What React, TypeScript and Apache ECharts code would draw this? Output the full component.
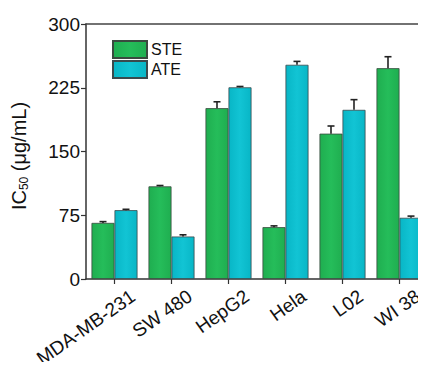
import React, { useEffect, useRef } from "react";
import * as echarts from "echarts";

const categories = ["MDA-MB-231", "SW 480", "HepG2", "Hela", "L02", "WI 38"];
const steValues = [66, 109, 201, 61, 171, 248];
const steErrors = [1.5, 1, 7.5, 1.5, 9, 13.5];
const ateValues = [81, 50, 225.5, 252, 199, 72];
const ateErrors = [1, 2, 1, 4, 12, 2];
const yTicks = [0, 75, 150, 225, 300];

const FONT = "Liberation Sans, Arial, sans-serif";

function grad(edge: string, mid: string) {
  return new echarts.graphic.LinearGradient(0, 0, 1, 0, [
    { offset: 0, color: edge },
    { offset: 0.5, color: mid },
    { offset: 1, color: edge },
  ]);
}

function errorSeries(values: number[], errs: number[], offset: number) {
  return {
    type: "custom",
    silent: true,
    z: 10,
    data: values.map((v, i) => [i, v, errs[i]]),
    renderItem: (params: any, api: any) => {
      const i = api.value(0);
      const v = api.value(1);
      const e = api.value(2);
      const base = api.coord([i, v]);
      const top = api.coord([i, v + e]);
      const x = base[0] + offset;
      const style = { stroke: "#222", lineWidth: 1.6 };
      return {
        type: "group",
        children: [
          { type: "line", shape: { x1: x, y1: base[1], x2: x, y2: top[1] }, style },
          { type: "line", shape: { x1: x - 3.5, y1: top[1], x2: x + 3.5, y2: top[1] }, style },
        ],
      };
    },
  };
}

export default function App() {
  const ref = useRef<HTMLDivElement>(null);
  useEffect(() => {
    const chart = echarts.init(ref.current!, null, { renderer: "svg" });
    chart.setOption({
      animation: false,
      grid: { left: 86, top: 24, right: -2, bottom: 91, containLabel: false, outerBoundsMode: "none" },
      legend: {
        left: 107,
        top: 35,
        orient: "vertical",
        icon: "rect",
        itemWidth: 34,
        itemHeight: 17,
        itemGap: 1,
        data: ["STE", "ATE"],
        textStyle: { fontFamily: FONT, fontSize: 16, color: "#111", padding: [0, 0, 0, -1] },
      },
      graphic: [
        {
          type: "text",
          x: 19,
          y: 156,
          rotation: Math.PI / 2,
          style: {
            text: "{a|IC}{b|50}{a| (μg/mL)}",
            align: "center",
            verticalAlign: "middle",
            rich: {
              a: { fontFamily: FONT, fontSize: 20, fill: "#111", color: "#111" },
              b: { fontFamily: FONT, fontSize: 12, fill: "#111", color: "#111", padding: [9, 0, 0, 0] },
            },
          },
        },
      ],
      xAxis: [
        {
          type: "category",
          data: categories,
          axisLine: { lineStyle: { color: "#333", width: 1.5 } },
          axisTick: { show: true, alignWithLabel: true, length: 5, inside: false, lineStyle: { color: "#333", width: 1.2 } },
          axisLabel: {
            rotate: 35,
            fontFamily: FONT,
            fontSize: 19,
            color: "#111",
            margin: 8,
            interval: 0,
            hideOverlap: false,
            align: "right",
            verticalAlign: "top",
            padding: [7, -11, 0, 0],
          },
        },
        {
          type: "category",
          position: "top",
          data: categories,
          axisLine: { lineStyle: { color: "#444", width: 1.5 } },
          axisTick: { show: false },
          axisLabel: { show: false },
        },
      ],
      yAxis: {
        type: "value",
        min: 0,
        max: 300,
        interval: 75,
        axisLine: { show: true, lineStyle: { color: "#333", width: 1.5 } },
        axisTick: { show: true, length: 5, lineStyle: { color: "#333", width: 1.2 } },
        splitLine: { show: false },
        axisLabel: {
          fontFamily: FONT,
          fontSize: 19,
          color: "#111",
          margin: 6,
          formatter: (v: number) => (yTicks.includes(v) ? String(v) : ""),
        },
      },
      series: [
        {
          name: "STE",
          type: "bar",
          data: steValues,
          barWidth: 23,
          barGap: "0%",
          itemStyle: { color: grad("#1fae50", "#25bd5a"), borderColor: "#3a4a3f", borderWidth: 0.8 },
        },
        {
          name: "ATE",
          type: "bar",
          data: ateValues,
          barWidth: 23,
          barGap: "0%",
          itemStyle: { color: grad("#08b6c6", "#12c4d4"), borderColor: "#3a4a4d", borderWidth: 0.8 },
        },
        errorSeries(steValues, steErrors, -11.5),
        errorSeries(ateValues, ateErrors, 11.5),
      ],
    });
    return () => chart.dispose();
  }, []);
  return <div ref={ref} style={{ width: 426, height: 370, margin: -8 }} />;
}
